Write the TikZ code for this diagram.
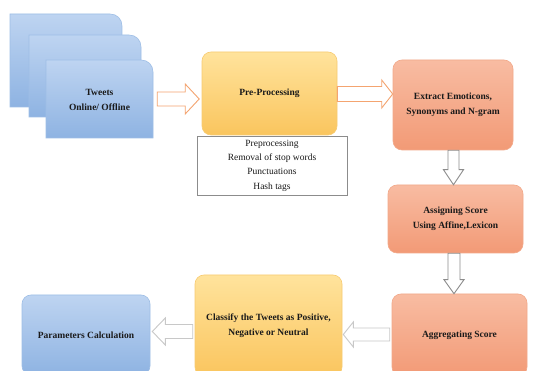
\documentclass[tikz,border=0pt]{standalone}
\usepackage{fontspec}
\setmainfont{Liberation Serif}
\usetikzlibrary{calc}
\definecolor{blueT}{HTML}{BED4F1}
\definecolor{blueB}{HTML}{8EB3E2}
\definecolor{blueE}{HTML}{9EBEE6}
\definecolor{yelT}{HTML}{FFE39C}
\definecolor{yelB}{HTML}{FAC55E}
\definecolor{yelE}{HTML}{F7CB72}
\definecolor{salT}{HTML}{F8BCA2}
\definecolor{salB}{HTML}{F29A76}
\definecolor{salE}{HTML}{F2A98A}
\definecolor{arrO}{HTML}{F4A470}
\definecolor{arrG}{HTML}{8C8C8C}
\definecolor{arrL}{HTML}{C8C8C8}
\definecolor{txt}{HTML}{1A1A1A}
\tikzset{
  box/.style={rounded corners=9pt, draw, line width=0.6pt, align=center, inner sep=0pt,
    text=txt, font=\bfseries\fontsize{9.5}{15.5}\selectfont},
  bluebox/.style={box, top color=blueT, bottom color=blueB, draw=blueE},
  yelbox/.style={box, top color=yelT, bottom color=yelB, draw=yelE},
  salbox/.style={box, top color=salT, bottom color=salB, draw=salE},
  pagestyle/.style={top color=blueT, bottom color=blueB, draw=blueE, line width=0.6pt},
  listbox/.style={draw=arrG, line width=0.7pt, fill=white, align=center, inner sep=0pt,
    text=txt, font=\fontsize{9.5}{14.3}\selectfont},
  oarrow/.style={draw=arrO, fill=white, line width=0.9pt, line join=miter},
  garrow/.style={draw=arrG, fill=white, line width=0.9pt, line join=miter},
  larrow/.style={draw=arrL, fill=white, line width=0.9pt, line join=miter}
}
% horizontal block arrow: style, start, tip, shaft half, head half, head length (signed number, canvas pt)
\newcommand\hblk[6]{\draw[#1] let \p1=(#2), \p2=(#3), \n2={\x2-(#6pt)} in
  (\x1,\y1+#4) -- (\n2,\y1+#4) -- (\n2,\y1+#5) -- (\x2,\y1) --
  (\n2,\y1-#5) -- (\n2,\y1-#4) -- (\x1,\y1-#4) -- cycle;}
% vertical block arrow: style, start, tip, shaft half, head half, head length (signed number, canvas pt)
\newcommand\vblk[6]{\draw[#1] let \p1=(#2), \p2=(#3), \n2={\y2-(#6pt)} in
  (\x1+#4,\y1) -- (\x1+#4,\n2) -- (\x1+#5,\n2) -- (\x1,\y2) --
  (\x1-#5,\n2) -- (\x1-#4,\n2) -- (\x1-#4,\y1) -- cycle;}
\begin{document}
\begin{tikzpicture}[x=1pt,y=-1pt]
\useasboundingbox (0,0) rectangle (542,371);
\clip (0,0) rectangle (542,371);
\fill[white] (0,0) rectangle (542,371);
% stacked tweet pages
\path[pagestyle] (10,107) -- (10,14) -- (110,14) .. controls (117,14) and (122,19) .. (122,26) -- (122,107) -- cycle;
\path[pagestyle] (29,117) -- (29,35) -- (129,35) .. controls (136,35) and (141,40) .. (141,47) -- (141,117) -- cycle;
\path[pagestyle] (46,138) -- (46,60) -- (141,60) .. controls (148,60) and (153,65) .. (153,72) -- (153,138) -- cycle;
\node[align=center, text=txt, font=\bfseries\fontsize{9.5}{15.5}\selectfont,
  minimum width=107pt, minimum height=78pt, inner sep=0pt] (tweets) at (99.5,100) {Tweets\\Online/ Offline};
% boxes
\node[yelbox, minimum width=135pt, minimum height=83pt] (pre) at (269.5,93.5) {Pre-Processing};
\node[listbox, minimum width=150pt, minimum height=59pt] (steps) at (272,165.5)
  {Preprocessing\\Removal of stop words\\Punctuations\\Hash tags};
\node[salbox, minimum width=120pt, minimum height=90pt] (ext) at (453,105) {Extract Emoticons,\\Synonyms and N-gram};
\node[salbox, minimum width=135pt, minimum height=68pt] (asg) at (455.5,219) {Assigning Score\\Using Affine,Lexicon};
\node[salbox, minimum width=135pt, minimum height=82pt] (agg) at (459.5,335) {Aggregating Score};
\node[yelbox, minimum width=147pt, minimum height=101pt] (cls) at (268.5,325.5) {Classify the Tweets as Positive,\\Negative or Neutral};
\node[bluebox, minimum width=128pt, minimum height=80pt] (par) at (86,335) {Parameters Calculation};
% arrows
\coordinate (a1s) at ($(tweets.east)+(4,-1)$);
\coordinate (a1t) at ($(pre.west |- a1s)+(-2.5,0)$);
\hblk{oarrow}{a1s}{a1t}{7pt}{15pt}{14}
\coordinate (a2s) at ($(pre.east)+(0,0.5)$);
\coordinate (a2t) at (ext.west |- a2s);
\hblk{oarrow}{a2s}{a2t}{7.5pt}{14pt}{11}
\coordinate (d1s) at ($(ext.south)+(0.5,0)$);
\coordinate (d1t) at (asg.north -| d1s);
\vblk{garrow}{d1s}{d1t}{5.5pt}{10pt}{-15}
\coordinate (d2s) at ($(asg.south)+(-1.5,0)$);
\coordinate (d2t) at (agg.north -| d2s);
\vblk{garrow}{d2s}{d2t}{6pt}{10pt}{-14}
\coordinate (l1s) at ($(agg.west)+(-2,-0.5)$);
\coordinate (l1t) at ($(cls.east |- l1s)+(1,0)$);
\hblk{larrow}{l1s}{l1t}{6.5pt}{12.5pt}{-10}
\coordinate (l2s) at ($(cls.west)+(-2,6)$);
\coordinate (l2t) at ($(par.east |- l2s)+(2,0)$);
\hblk{larrow}{l2s}{l2t}{7pt}{13.5pt}{-13}
\end{tikzpicture}
\end{document}
